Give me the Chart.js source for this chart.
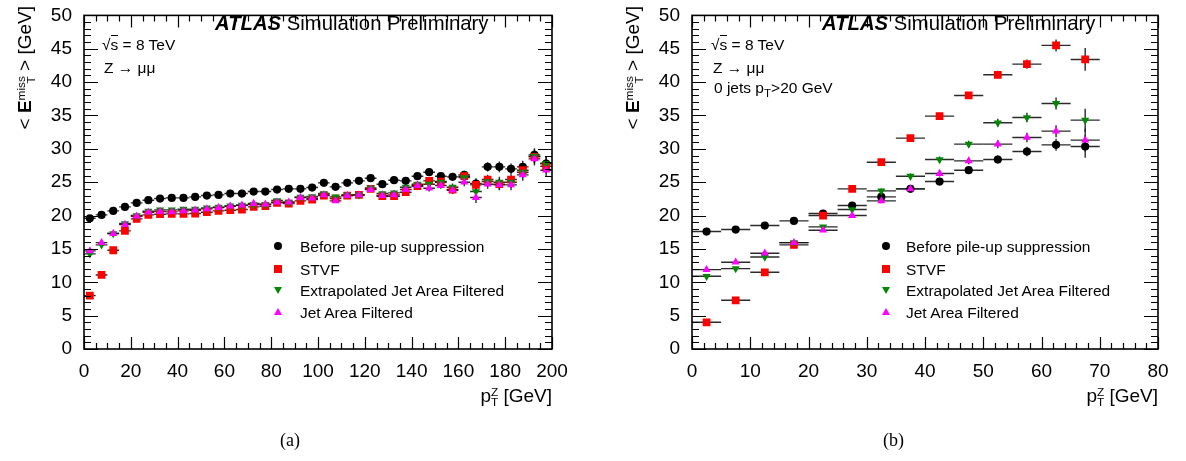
<!DOCTYPE html>
<html>
<head>
<meta charset="utf-8">
<script src="https://cdn.jsdelivr.net/npm/chart.js@4.4.0/dist/chart.umd.min.js"></script>
<style>
    body { margin: 0; background: #fff; }
    #wrap { position: relative; width: 1186px; height: 461px; overflow: hidden; background: #fff;
            font-family: "Liberation Sans", Arial, sans-serif; color: #000; }
    canvas { position: absolute; top: 0; }
    .t { position: absolute; white-space: nowrap; line-height: 1; }
    .atlas { font-size: 20.3px; }
    .atlas b { font-style: italic; }
    .note { font-size: 15.5px; }
    .leg { font-size: 15.5px; }
    .stack { display: inline-block; vertical-align: -0.3em; line-height: 0.85; font-size: 0.62em; }
    .stack span { display: block; }
    .ytitle { position: absolute; font-size: 19px; white-space: nowrap; text-align: right;
              transform-origin: 0 0; transform: rotate(-90deg); line-height: 28px; }
    .xtitle { position: absolute; font-size: 19px; white-space: nowrap; text-align: right; line-height: 1; }
    .cap { position: absolute; font-family: "Liberation Serif", "Times New Roman", serif; font-size: 18px; }
    .mk { position: absolute; }
    .circ { width: 8px; height: 8px; border-radius: 50%; background: #000; }
    .sq { width: 8px; height: 8px; background: #ff0000; }
    .tdown { width: 0; height: 0; border-left: 4.5px solid transparent; border-right: 4.5px solid transparent; border-top: 7px solid #008800; }
    .tup { width: 0; height: 0; border-left: 4.5px solid transparent; border-right: 4.5px solid transparent; border-bottom: 7px solid #ff00ff; }
</style>
</head>
<body>
<div id="wrap">
    <canvas id="chartA" width="580" height="400" style="left:0px"></canvas>
    <canvas id="chartB" width="580" height="400" style="left:600px"></canvas>

    <!-- left panel texts -->
    <div class="t atlas" style="left:215px; top:13px;"><b>ATLAS</b> Simulation Preliminary</div>
    <div class="t note" style="left:102px; top:37px;">√<span style="border-top:1px solid #000">s</span> = 8 TeV</div>
    <div class="t note" style="left:104px; top:60px;">Z → μμ</div>

    <div class="mk circ" style="left:274px; top:242px;"></div>
    <div class="mk sq" style="left:274px; top:265px;"></div>
    <div class="mk tdown" style="left:273.5px; top:287px;"></div>
    <div class="mk tup" style="left:273.5px; top:308px;"></div>
    <div class="t leg" style="left:300px; top:239px;">Before pile-up suppression</div>
    <div class="t leg" style="left:300px; top:262px;">STVF</div>
    <div class="t leg" style="left:300px; top:283px;">Extrapolated Jet Area Filtered</div>
    <div class="t leg" style="left:300px; top:305px;">Jet Area Filtered</div>

    <div class="ytitle" style="left:11px; top:140px; width:134px;">&lt; <b>E</b><span class="stack"><span>miss</span><span>T</span></span> &gt; [GeV]</div>
    <div class="xtitle" style="left:352px; top:386px; width:200px;">p<span class="stack"><span>Z</span><span>T</span></span> [GeV]</div>
    <div class="cap" style="left:280px; top:430px;">(a)</div>

    <!-- right panel texts -->
    <div class="t atlas" style="left:822px; top:13px;"><b>ATLAS</b> Simulation Preliminary</div>
    <div class="t note" style="left:711px; top:37px;">√<span style="border-top:1px solid #000">s</span> = 8 TeV</div>
    <div class="t note" style="left:713px; top:60px;">Z → μμ</div>
    <div class="t note" style="left:714px; top:80px;">0 jets p<sub style="font-size:0.75em">T</sub>&gt;20 GeV</div>

    <div class="mk circ" style="left:882px; top:242px;"></div>
    <div class="mk sq" style="left:882px; top:265px;"></div>
    <div class="mk tdown" style="left:881.5px; top:287px;"></div>
    <div class="mk tup" style="left:881.5px; top:308px;"></div>
    <div class="t leg" style="left:906px; top:239px;">Before pile-up suppression</div>
    <div class="t leg" style="left:906px; top:262px;">STVF</div>
    <div class="t leg" style="left:906px; top:283px;">Extrapolated Jet Area Filtered</div>
    <div class="t leg" style="left:906px; top:305px;">Jet Area Filtered</div>

    <div class="ytitle" style="left:619px; top:140px; width:134px;">&lt; <b>E</b><span class="stack"><span>miss</span><span>T</span></span> &gt; [GeV]</div>
    <div class="xtitle" style="left:958px; top:386px; width:200px;">p<span class="stack"><span>Z</span><span>T</span></span> [GeV]</div>
    <div class="cap" style="left:883px; top:430px;">(b)</div>
</div>

<script>
    // ---- panel (a): inclusive, 5 GeV bins in pT(Z) ----
    const binsA = [2.5, 7.5, 12.5, 17.5, 22.5, 27.5, 32.5, 37.5, 42.5, 47.5,
                   52.5, 57.5, 62.5, 67.5, 72.5, 77.5, 82.5, 87.5, 92.5, 97.5,
                   102.5, 107.5, 112.5, 117.5, 122.5, 127.5, 132.5, 137.5, 142.5, 147.5,
                   152.5, 157.5, 162.5, 167.5, 172.5, 177.5, 182.5, 187.5, 192.5, 197.5];
    const beforeA = [19.6, 20.1, 20.7, 21.3, 21.9, 22.3, 22.55, 22.65, 22.65, 22.8,
                     23.0, 23.1, 23.3, 23.3, 23.6, 23.6, 23.9, 24.0, 24.0, 24.2,
                     24.9, 24.3, 24.9, 25.2, 25.6, 24.7, 25.3, 25.2, 25.9, 26.5,
                     25.9, 25.8, 26.1, 24.8, 27.3, 27.3, 27.0, 27.3, 29.1, 27.8];
    const stvfA = [8.0, 11.1, 14.8, 17.7, 19.5, 20.1, 20.2, 20.25, 20.25, 20.3,
                   20.5, 20.7, 20.8, 20.9, 21.3, 21.4, 21.9, 21.8, 22.2, 22.4,
                   23.0, 22.55, 23.0, 23.1, 24.0, 22.9, 22.9, 23.5, 24.4, 25.2,
                   25.1, 23.9, 25.9, 24.6, 25.4, 24.7, 25.4, 26.8, 28.8, 27.4];
    const extA = [14.25, 15.6, 17.3, 18.8, 20.0, 20.65, 20.85, 20.85, 20.95, 20.95,
                  21.15, 21.25, 21.45, 21.55, 21.65, 21.65, 22.25, 22.0, 22.75, 22.85,
                  23.3, 22.8, 23.1, 23.1, 24.15, 23.3, 23.4, 24.25, 24.7, 24.7,
                  25.0, 24.25, 25.7, 23.6, 25.1, 25.0, 25.0, 26.5, 28.9, 27.8];
    const jafA = [14.7, 15.95, 17.3, 18.65, 19.9, 20.5, 20.6, 20.55, 20.7, 20.8,
                  21.0, 21.2, 21.4, 21.55, 21.8, 21.7, 22.0, 22.0, 22.7, 22.6,
                  23.1, 22.2, 23.0, 23.1, 23.9, 23.0, 23.1, 23.9, 24.5, 24.1,
                  24.5, 23.8, 25.0, 22.7, 24.7, 24.6, 24.6, 26.1, 28.5, 26.8];
    const errA = [0.1, 0.1, 0.1, 0.1, 0.1, 0.1, 0.1, 0.1, 0.1, 0.12,
                  0.15, 0.15, 0.15, 0.15, 0.2, 0.2, 0.2, 0.2, 0.25, 0.25,
                  0.3, 0.3, 0.3, 0.35, 0.35, 0.4, 0.4, 0.4, 0.45, 0.5,
                  0.5, 0.55, 0.6, 0.8, 0.7, 0.8, 0.8, 0.9, 1.0, 1.0];

    // ---- panel (b): 0 jets with pT > 20 GeV ----
    const binsB = [2.5, 7.5, 12.5, 17.5, 22.5, 27.5, 32.5, 37.5, 42.5, 47.5, 52.5, 57.5, 62.5, 67.5];
    const beforeB = [17.6, 17.9, 18.5, 19.2, 20.3, 21.5, 22.8, 24.0, 25.1, 26.8, 28.4, 29.6, 30.6, 30.35];
    const stvfB = [4.0, 7.3, 11.5, 15.6, 20.0, 24.0, 28.0, 31.6, 34.9, 38.0, 41.1, 42.7, 45.5, 43.4];
    const extB = [10.9, 12.05, 13.8, 15.95, 18.3, 20.9, 23.7, 25.9, 28.4, 30.7, 33.9, 34.7, 36.8, 34.3];
    const jafB = [11.9, 13.0, 14.35, 15.95, 17.8, 20.0, 22.2, 24.0, 26.3, 28.2, 30.7, 31.7, 32.65, 31.3];
    const errB = [0.15, 0.15, 0.2, 0.2, 0.25, 0.3, 0.35, 0.4, 0.45, 0.5, 0.6, 0.7, 0.9, 1.7];

    const yTicks = [0, 5, 10, 15, 20, 25, 30, 35, 40, 45, 50];
    const xTicksA = [0, 20, 40, 60, 80, 100, 120, 140, 160, 180, 200];
    const xTicksB = [0, 10, 20, 30, 40, 50, 60, 70, 80];

    const halfBin = 2.5;

    function pts(xs, ys) {
        return xs.map((x, i) => ({ x: x, y: ys[i] }));
    }

    // error bars (bin width horizontally, stat error vertically) under the markers
    const errorBars = {
        id: "errorBars",
        beforeDatasetsDraw(chart) {
            const { ctx, scales: { x, y } } = chart;
            ctx.save();
            ctx.strokeStyle = "rgba(20,20,20,0.9)";
            ctx.lineWidth = 1.4;
            chart.data.datasets.forEach(ds => {
                ds.data.forEach((p, i) => {
                    const px = x.getPixelForValue(p.x);
                    const py = y.getPixelForValue(p.y);
                    const e = ds.errY[i];
                    ctx.beginPath();
                    ctx.moveTo(x.getPixelForValue(p.x - halfBin), py);
                    ctx.lineTo(x.getPixelForValue(p.x + halfBin), py);
                    ctx.moveTo(px, y.getPixelForValue(p.y - e));
                    ctx.lineTo(px, y.getPixelForValue(p.y + e));
                    ctx.stroke();
                });
            });
            ctx.restore();
        }
    };

    // ROOT style frame with inward ticks on all four sides
    const frameTicks = {
        id: "frameTicks",
        afterDraw(chart, args, opts) {
            const { ctx, chartArea: a, scales: { x, y } } = chart;
            ctx.save();
            ctx.strokeStyle = "#000";
            ctx.lineWidth = 1.2;
            ctx.beginPath();
            for (let v = x.min; v <= x.max + 1e-9; v += opts.xMinor) {
                const px = Math.round(x.getPixelForValue(v)) + 0.5;
                const major = Math.abs(v / opts.xMajor - Math.round(v / opts.xMajor)) < 1e-6;
                const len = major ? 12 : 6;
                ctx.moveTo(px, a.bottom); ctx.lineTo(px, a.bottom - len);
                ctx.moveTo(px, a.top); ctx.lineTo(px, a.top + len);
            }
            for (let v = y.min; v <= y.max + 1e-9; v += 1) {
                const py = Math.round(y.getPixelForValue(v)) + 0.5;
                const len = v % 5 === 0 ? 14 : 7;
                ctx.moveTo(a.left, py); ctx.lineTo(a.left + len, py);
                ctx.moveTo(a.right, py); ctx.lineTo(a.right - len, py);
            }
            ctx.stroke();
            ctx.lineWidth = 1.6;
            ctx.strokeRect(a.left, a.top, a.right - a.left, a.bottom - a.top);
            ctx.restore();
        }
    };

    function makeChart(id, bins, series, err, xMax, xTicks, xMajor, xMinor, yWidth, padRight) {
        const ctx = document.getElementById(id).getContext("2d");
        return new Chart(ctx, {
            type: "scatter",
            data: {
                datasets: [
                    { label: "Before pile-up suppression", data: pts(bins, series[0]), errY: err,
                      pointStyle: "circle", pointRadius: 4.1, backgroundColor: "#000", borderWidth: 0, order: 4 },
                    { label: "STVF", data: pts(bins, series[1]), errY: err,
                      pointStyle: "rect", pointRadius: 5.5, backgroundColor: "#ff0000", borderWidth: 0, order: 3 },
                    { label: "Extrapolated Jet Area Filtered", data: pts(bins, series[2]), errY: err,
                      pointStyle: "triangle", pointRotation: 180, pointRadius: 4.7, backgroundColor: "#008800", borderWidth: 0, order: 2 },
                    { label: "Jet Area Filtered", data: pts(bins, series[3]), errY: err,
                      pointStyle: "triangle", pointRadius: 4.7, backgroundColor: "#ff00ff", borderWidth: 0, order: 1 }
                ]
            },
            options: {
                responsive: false,
                animation: false,
                devicePixelRatio: 1,
                layout: { padding: { top: 12, right: padRight, left: 0, bottom: 0 } },
                plugins: {
                    legend: { display: false },
                    tooltip: { enabled: false },
                    frameTicks: { xMajor: xMajor, xMinor: xMinor }
                },
                scales: {
                    x: {
                        type: "linear", min: 0, max: xMax,
                        grid: { display: false }, border: { display: false },
                        afterBuildTicks: s => { s.ticks = xTicks.map(v => ({ value: v })); },
                        afterFit: s => { s.height = 51; },
                        ticks: { color: "#000", padding: 3, autoSkip: false, maxRotation: 0,
                                 font: { family: "'Liberation Sans', Arial, sans-serif", size: 19 } }
                    },
                    y: {
                        type: "linear", min: 0, max: 50,
                        grid: { display: false }, border: { display: false },
                        afterBuildTicks: s => { s.ticks = yTicks.map(v => ({ value: v })); },
                        afterFit: s => { s.width = yWidth; },
                        ticks: { color: "#000", padding: 4, autoSkip: false,
                                 font: { family: "'Liberation Sans', Arial, sans-serif", size: 19 } }
                    }
                }
            },
            plugins: [errorBars, frameTicks]
        });
    }

    makeChart("chartA", binsA, [beforeA, stvfA, extA, jafA], errA, 200, xTicksA, 20, 5, 84, 28);
    makeChart("chartB", binsB, [beforeB, stvfB, extB, jafB], errB, 80, xTicksB, 10, 2, 92, 22);
</script>
</body>
</html>
